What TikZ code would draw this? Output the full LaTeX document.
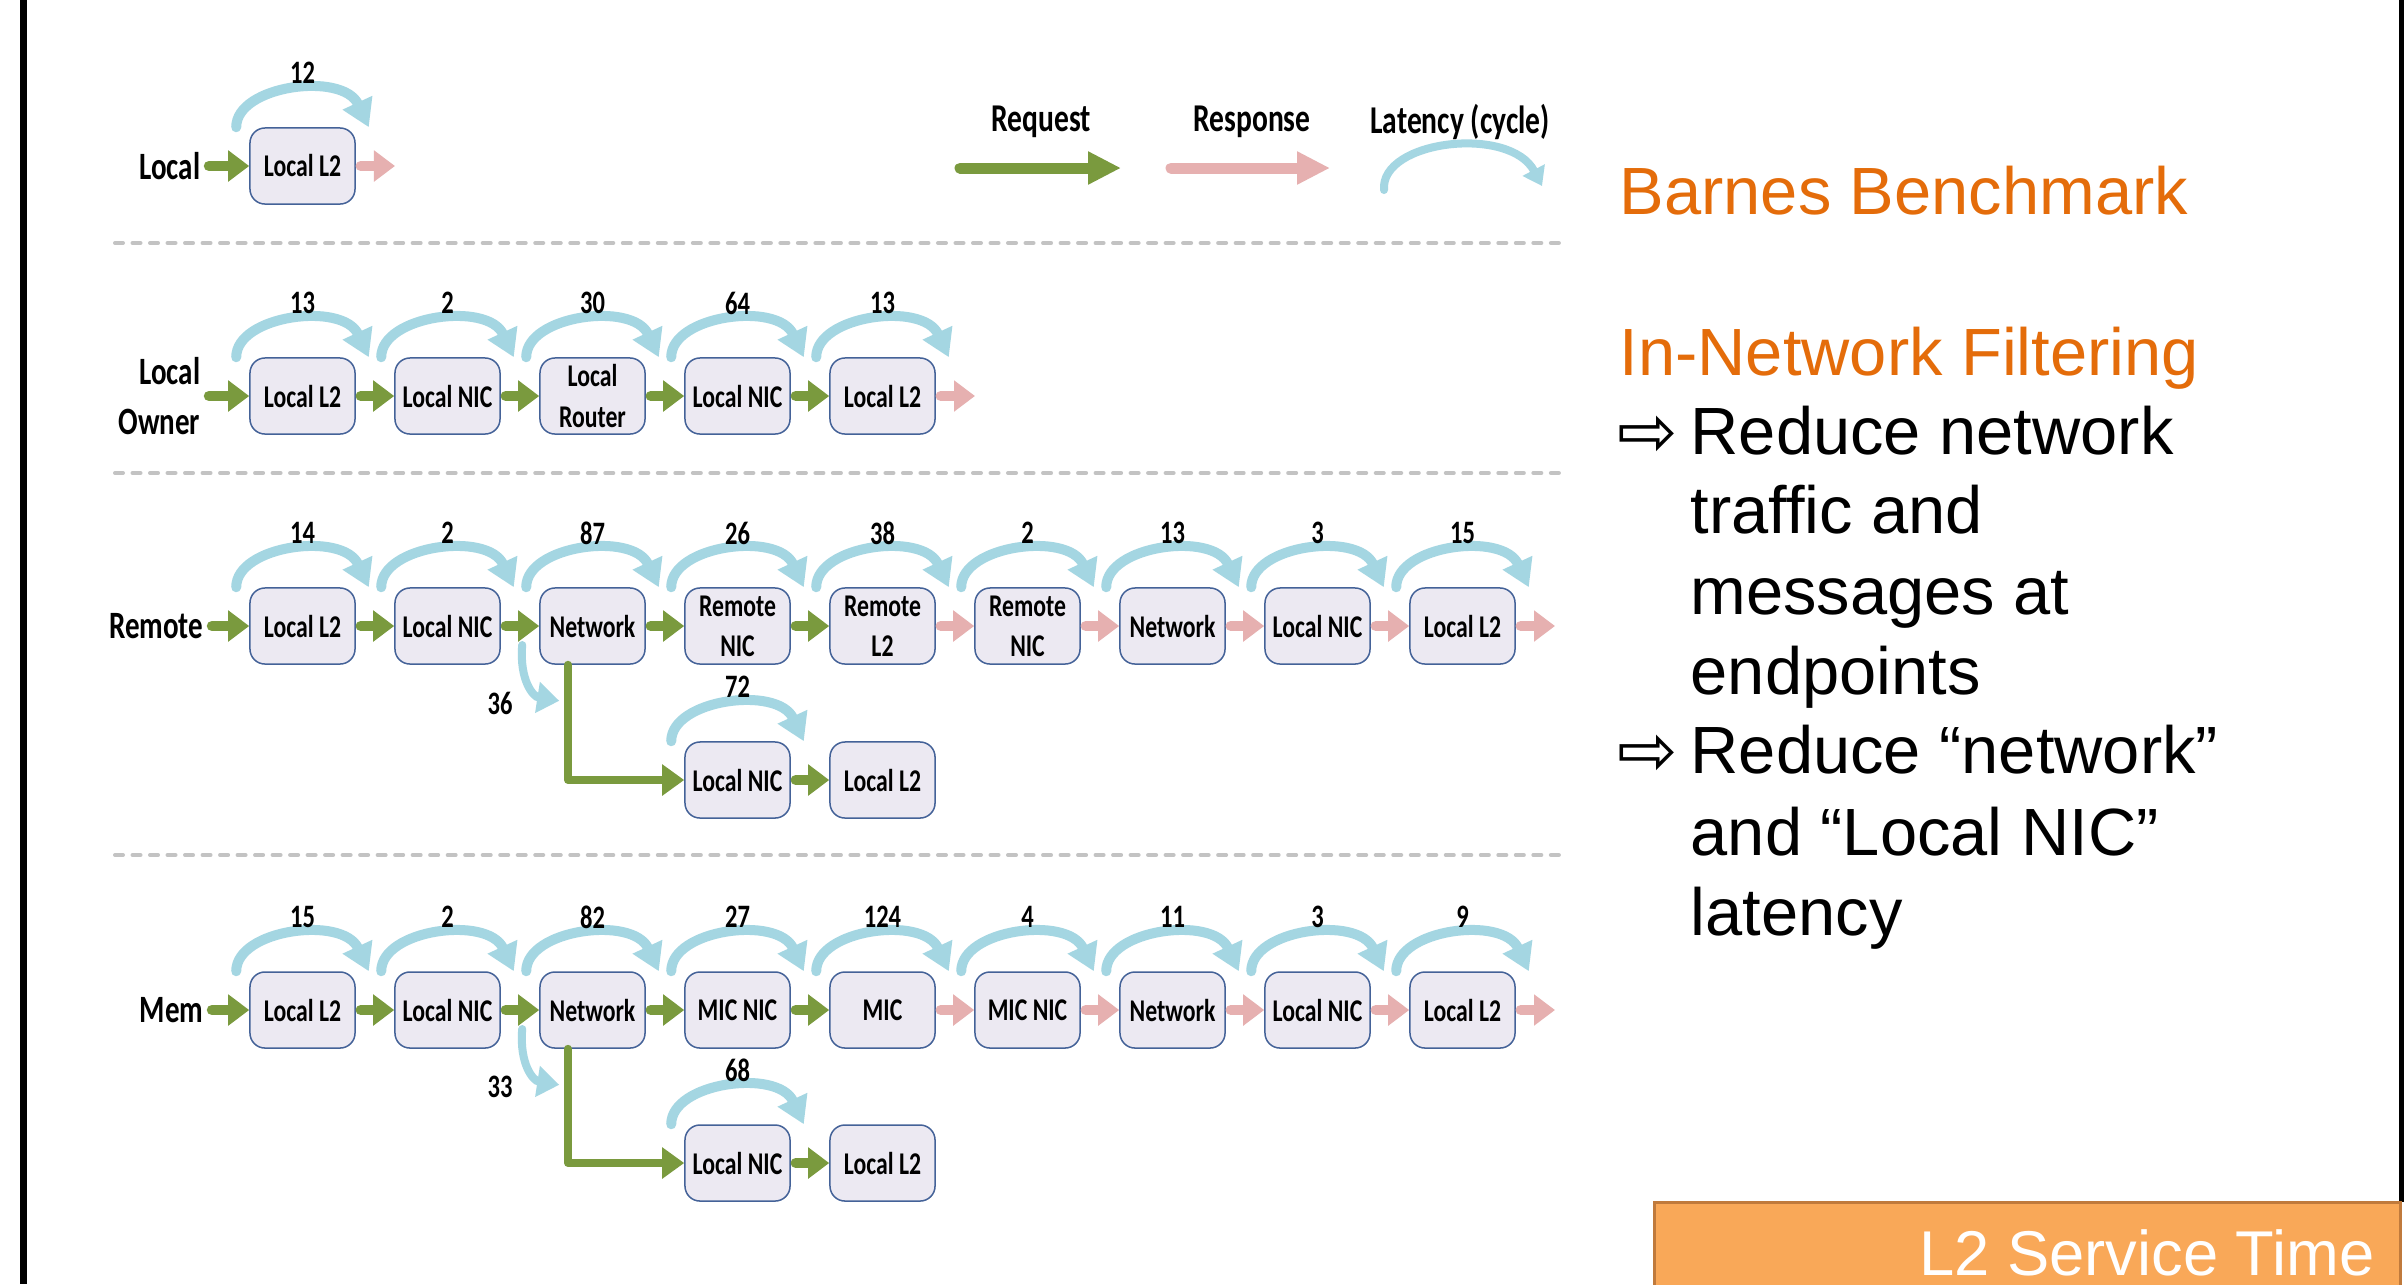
\documentclass[tikz,border=0pt]{standalone}
\usepackage{fontspec}
\usetikzlibrary{arrows.meta,calc}
\newfontfamily\cbf{Carlito}[FakeStretch=0.75]
\newfontfamily\arialf{Liberation Sans}
\newfontfamily\djv{DejaVu Sans}
\definecolor{reqgreen}{RGB}{122,154,62}
\definecolor{resppink}{RGB}{230,176,176}
\definecolor{latblue}{RGB}{164,214,226}
\definecolor{boxfill}{RGB}{236,233,242}
\definecolor{boxline}{RGB}{68,98,152}
\definecolor{hdorange}{RGB}{228,108,10}
\definecolor{tagfill}{RGB}{249,168,88}
\definecolor{tagline}{RGB}{192,122,60}
\definecolor{sepgrey}{RGB}{195,195,195}
\tikzset{
  unit/.style={draw=boxline, line width=0.15mm, fill=boxfill, rounded corners=1.5mm,
    minimum width=10.5mm, minimum height=7.6mm, inner sep=0pt, align=center,
    font=\cbf\bfseries\fontsize{9}{11.4}\selectfont},
  rowlab/.style={anchor=east, inner sep=0.3mm, align=right,
    font=\cbf\bfseries\fontsize{11}{14.2}\selectfont},
  num/.style={inner sep=0pt, font=\cbf\bfseries\fontsize{9.3}{11}\selectfont},
  leglab/.style={inner sep=0pt, font=\cbf\bfseries\fontsize{11.2}{13}\selectfont},
  req/.style={draw=reqgreen, line width=1.05mm, line cap=round, shorten <=0.5mm,
    -{Triangle[width=3mm,length=2.1mm]}},
  resp/.style={req, draw=resppink},
  branch/.style={draw=reqgreen, line width=0.8mm, line cap=round, line join=round,
    -{Triangle[width=3mm,length=2.2mm]}},
  lat/.style={draw=latblue, line width=1mm, line cap=round,
    -{Triangle[width=3.1mm,length=2.7mm]}},
  latsmall/.style={draw=latblue, line width=0.8mm, line cap=round,
    -{Triangle[width=3mm,length=2.2mm]}},
  legreq/.style={draw=reqgreen, line width=1.1mm, line cap=round,
    -{Triangle[width=3.1mm,length=3.3mm]}},
  legresp/.style={legreq, draw=resppink},
  leglat/.style={draw=latblue, line width=0.8mm, line cap=round,
    -{Triangle[width=2.4mm,length=1.8mm]}},
  sepline/.style={draw=sepgrey, line width=0.4mm, line cap=round, dash pattern=on 0.8mm off 0.95mm},
  sidetxt/.style={anchor=base west, inner sep=0pt, font=\arialf\fontsize{19}{22}\selectfont},
  sidehead/.style={sidetxt, text=hdorange},
  sidearrow/.style={anchor=base west, inner sep=0pt, font=\djv\fontsize{20.5}{22}\selectfont},
}
\newcommand\latarc[2]{%
  \draw[lat] ([xshift=-1.3mm]#1.north west) .. controls +(0,4.2mm) and +(-2.6mm,5.6mm) .. ([xshift=1.3mm]#1.north east);
  \node[num] (n-#1) at ([yshift=9.3mm]#1.center) {#2};
}
\begin{document}
\begin{tikzpicture}[x=0.01cm,y=-0.01cm]
\useasboundingbox (0,0) rectangle (2404,1284);
\fill[white] (0,0) rectangle (2404,1284);
% frame bars
\fill[black] (20,0) rectangle (27,1284);
\fill[black] (2399,0) rectangle (2404,1202);

% legend
\node[leglab] (lg-req) at (1041,122) {Request};
\node[leglab] (lg-resp) at (1252,122) {Response};
\node[leglab] (lg-lat) at (1460,122) {Latency (cycle)};
\coordinate (rq-a) at (960,168); \coordinate (rq-b) at (1121,168);
\coordinate (rs-a) at (1171,168); \coordinate (rs-b) at (1330,168);
\coordinate (lt-a) at (1384,190); \coordinate (lt-b) at (1542,186);
\draw[legreq] (rq-a) -- (rq-b);
\draw[legresp] (rs-a) -- (rs-b);
\draw[leglat] (lt-a) .. controls (1380,140) and (1510,125) .. (lt-b);

% separators
\draw[sepline] (115,243) -- (1568,243);
\draw[sepline] (115,473) -- (1568,473);
\draw[sepline] (115,855) -- (1568,855);

% ---- Local row
\node[rowlab] (lab-l) at (204,166) {Local};
\node[unit] (l0) at (302.5,166) {Local L2};
\coordinate (l-out) at (395,166);
\draw[req] (lab-l) -- (l0);
\draw[resp] (l0) -- (l-out);
\latarc{l0}{12}

% ---- Local Owner row
\node[rowlab] (lab-o) at (204,396) {Local\\Owner};
\node[unit] (o0) at (302.5,396) {Local L2};
\node[unit] (o1) at (447.5,396) {Local NIC};
\node[unit] (o2) at (592.5,396) {Local\\Router};
\node[unit] (o3) at (737.5,396) {Local NIC};
\node[unit] (o4) at (882.5,396) {Local L2};
\coordinate (o-out) at (975,396);
\draw[req] (lab-o) -- (o0);
\draw[req] (o0) -- (o1);
\draw[req] (o1) -- (o2);
\draw[req] (o2) -- (o3);
\draw[req] (o3) -- (o4);
\draw[resp] (o4) -- (o-out);
\latarc{o0}{13}\latarc{o1}{2}\latarc{o2}{30}\latarc{o3}{64}\latarc{o4}{13}

% ---- Remote row
\node[rowlab] (lab-r) at (207,626) {Remote};
\node[unit] (r0) at (302.5,626) {Local L2};
\node[unit] (r1) at (447.5,626) {Local NIC};
\node[unit] (r2) at (592.5,626) {Network};
\node[unit] (r3) at (737.5,626) {Remote\\NIC};
\node[unit] (r4) at (882.5,626) {Remote\\L2};
\node[unit] (r5) at (1027.5,626) {Remote\\NIC};
\node[unit] (r6) at (1172.5,626) {Network};
\node[unit] (r7) at (1317.5,626) {Local NIC};
\node[unit] (r8) at (1462.5,626) {Local L2};
\coordinate (r-out) at (1555,626);
\node[unit] (rb3) at (737.5,780) {Local NIC};
\node[unit] (rb4) at (882.5,780) {Local L2};
\draw[req] (lab-r) -- (r0);
\draw[req] (r0) -- (r1);
\draw[req] (r1) -- (r2);
\draw[req] (r2) -- (r3);
\draw[req] (r3) -- (r4);
\draw[resp] (r4) -- (r5);
\draw[resp] (r5) -- (r6);
\draw[resp] (r6) -- (r7);
\draw[resp] (r7) -- (r8);
\draw[resp] (r8) -- (r-out);
\draw[branch] ([xshift=-2.45mm]r2.south) |- (rb3);
\draw[req] (rb3) -- (rb4);
\latarc{r0}{14}\latarc{r1}{2}\latarc{r2}{87}\latarc{r3}{26}\latarc{r4}{38}
\latarc{r5}{2}\latarc{r6}{13}\latarc{r7}{3}\latarc{r8}{15}
\latarc{rb3}{72}
\draw[latsmall] ([xshift=-1.7mm,yshift=-1.9mm]r2.west) .. controls +(-0.3mm,-3.5mm) and +(-2.6mm,0.4mm) .. ([xshift=2mm,yshift=-3.6mm]r2.south west);
\node[num] (n36) at (500,703) {36};

% ---- Mem row
\node[rowlab] (lab-m) at (207,1010) {Mem};
\node[unit] (m0) at (302.5,1010) {Local L2};
\node[unit] (m1) at (447.5,1010) {Local NIC};
\node[unit] (m2) at (592.5,1010) {Network};
\node[unit] (m3) at (737.5,1010) {MIC NIC};
\node[unit] (m4) at (882.5,1010) {MIC};
\node[unit] (m5) at (1027.5,1010) {MIC NIC};
\node[unit] (m6) at (1172.5,1010) {Network};
\node[unit] (m7) at (1317.5,1010) {Local NIC};
\node[unit] (m8) at (1462.5,1010) {Local L2};
\coordinate (m-out) at (1555,1010);
\node[unit] (mb3) at (737.5,1163) {Local NIC};
\node[unit] (mb4) at (882.5,1163) {Local L2};
\draw[req] (lab-m) -- (m0);
\draw[req] (m0) -- (m1);
\draw[req] (m1) -- (m2);
\draw[req] (m2) -- (m3);
\draw[req] (m3) -- (m4);
\draw[resp] (m4) -- (m5);
\draw[resp] (m5) -- (m6);
\draw[resp] (m6) -- (m7);
\draw[resp] (m7) -- (m8);
\draw[resp] (m8) -- (m-out);
\draw[branch] ([xshift=-2.45mm]m2.south) |- (mb3);
\draw[req] (mb3) -- (mb4);
\latarc{m0}{15}\latarc{m1}{2}\latarc{m2}{82}\latarc{m3}{27}\latarc{m4}{124}
\latarc{m5}{4}\latarc{m6}{11}\latarc{m7}{3}\latarc{m8}{9}
\latarc{mb3}{68}
\draw[latsmall] ([xshift=-1.7mm,yshift=-1.9mm]m2.west) .. controls +(-0.3mm,-3.5mm) and +(-2.6mm,0.4mm) .. ([xshift=2mm,yshift=-3.6mm]m2.south west);
\node[num] (n33) at (500,1087) {33};

% ---- right side text
\node[sidehead] (t-bar) at (1619,214) {Barnes Benchmark};
\node[sidehead] (t-inf) at (1619,375) {In-Network Filtering};
\node[sidearrow] (ar1) at (1617,456) {⇨};
\node[sidetxt] (t-1a) at (1690,454) {Reduce network};
\node[sidetxt] (t-1b) at (1690,533) {traffic and};
\node[sidetxt] (t-1c) at (1690,614) {messages at};
\node[sidetxt] (t-1d) at (1690,694) {endpoints};
\node[sidearrow] (ar2) at (1617,775) {⇨};
\node[sidetxt] (t-2a) at (1690,773) {Reduce “network”};
\node[sidetxt] (t-2b) at (1690,855) {and “Local NIC”};
\node[sidetxt] (t-2c) at (1690,935) {latency};

% ---- tag box
\draw[draw=tagline, line width=0.3mm, fill=tagfill] (1654,1202) rectangle (2400,1320);
\node[anchor=base east, inner sep=0pt, text=white, font=\arialf\fontsize{18}{21}\selectfont] (tag) at (2375,1275) {L2 Service Time};
\end{tikzpicture}
\end{document}
